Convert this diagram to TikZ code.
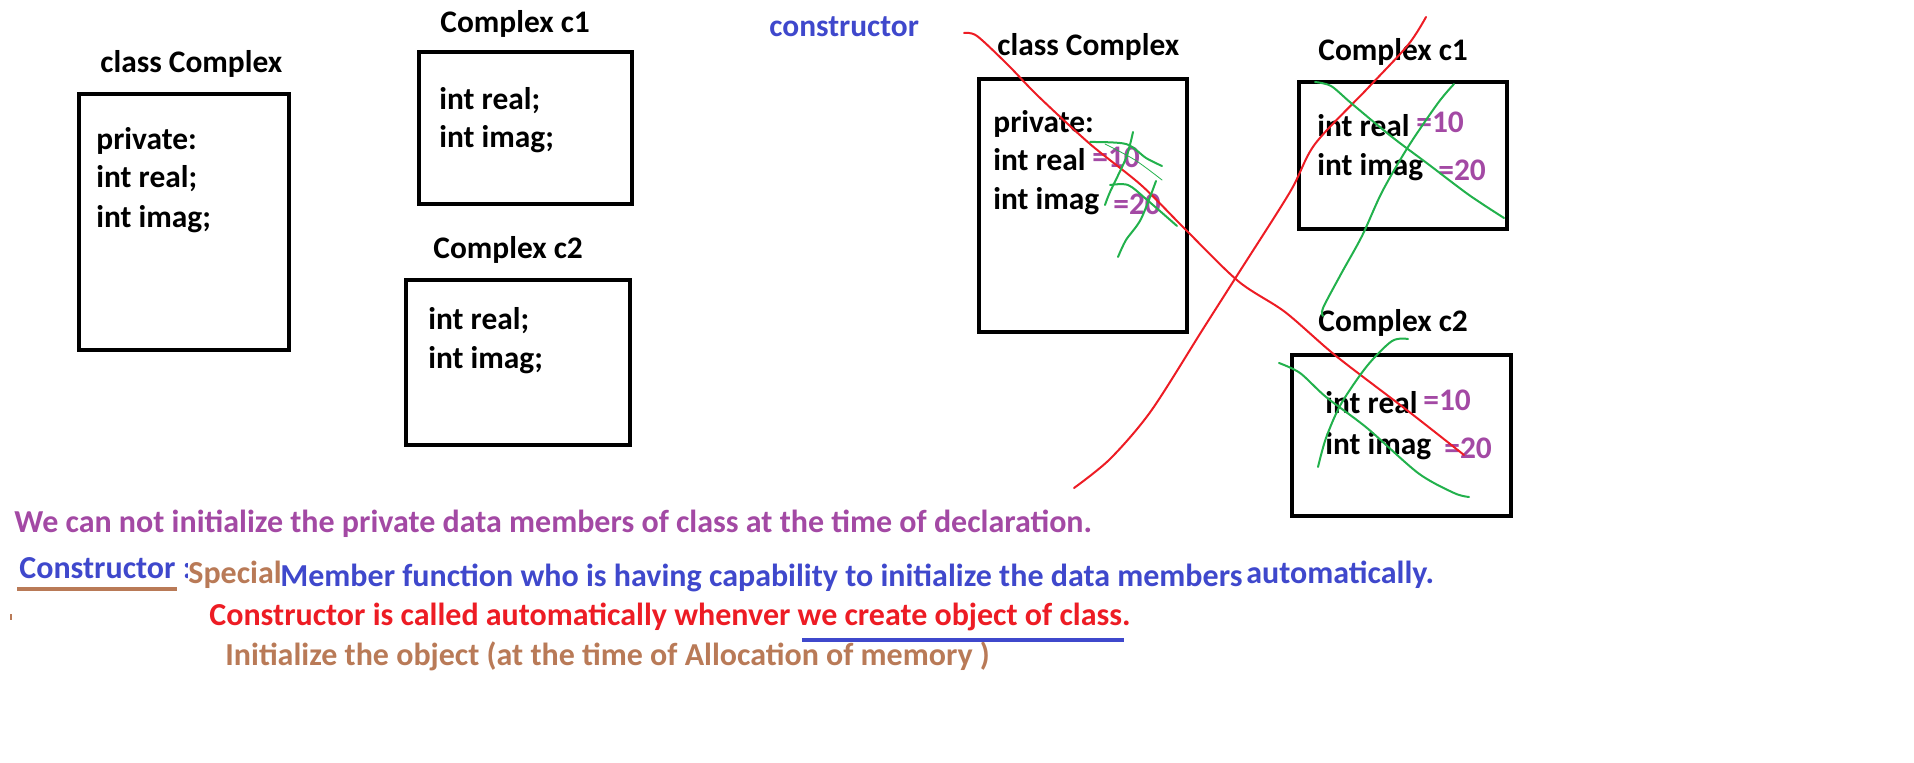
\documentclass[tikz,border=0pt]{standalone}
\usepackage{fontspec}
\setmainfont{Carlito}
\definecolor{paintpurple}{HTML}{A349A4}
\definecolor{paintblue}{HTML}{3F48CC}
\definecolor{paintbrown}{HTML}{B97A57}
\definecolor{paintred}{HTML}{ED1C24}
\definecolor{paintgreen}{HTML}{22B14C}
\begin{document}
\begin{tikzpicture}
  [x=0.5pt,y=-0.5pt,
   every node/.style={inner sep=0pt, anchor=base west, font=\bfseries\fontsize{15.7}{18}\selectfont},
   box/.style={draw, line width=2.2pt, anchor=north west},
   note/.style={font=\bfseries\fontsize{16}{19}\selectfont},
   redpen/.style={paintred, line width=1pt, line cap=round},
   greenpen/.style={paintgreen, line width=1pt, line cap=round}]
  \useasboundingbox (0,0) rectangle (1914,763);

  % first drawing: class and two objects
  \node (t1) at (100,73) {class Complex};
  \node[box, minimum width=105pt, minimum height=128pt] (cls1) at (77,92) {};
  \node (p1) at (96,150) {private:};
  \node (r1) at (96,188) {int real;};
  \node (i1) at (96,228) {int imag;};

  \node (t2) at (440,33) {Complex c1};
  \node[box, minimum width=106.5pt, minimum height=76pt] (obj1) at (417,50) {};
  \node (r2) at (439,110) {int real;};
  \node (i2) at (439,148) {int imag;};

  \node (t3) at (433,259) {Complex c2};
  \node[box, minimum width=112pt, minimum height=82.5pt] (obj2) at (404,278) {};
  \node (r3) at (428,330) {int real;};
  \node (i3) at (428,369) {int imag;};

  % second drawing: initialised members, struck out
  \node[paintblue] (ctor) at (769,37) {constructor};

  \node (t4) at (997,56) {class Complex};
  \node[box, minimum width=104pt, minimum height=126.5pt] (cls2) at (977,77) {};
  \node (p4) at (993,133) {private:};
  \node (r4) at (993,171) {int real};
  \node (i4) at (993,210) {int imag};
  \node[paintpurple] (v4a) at (1092,168) {=10};
  \node[paintpurple] (v4b) at (1113,215) {=20};

  \node (t5) at (1318,61) {Complex c1};
  \node[box, minimum width=104pt, minimum height=73.5pt] (obj3) at (1297,80) {};
  \node (r5) at (1317,137) {int real};
  \node (i5) at (1317,176) {int imag};
  \node[paintpurple] (v5a) at (1416,133) {=10};
  \node[paintpurple] (v5b) at (1438,181) {=20};

  \node (t6) at (1318,332) {Complex c2};
  \node[box, minimum width=109.5pt, minimum height=80.5pt] (obj4) at (1290,353) {};
  \node (r6) at (1325,414) {int real};
  \node (i6) at (1325,455) {int imag};
  \node[paintpurple] (v6a) at (1423,411) {=10};
  \node[paintpurple] (v6b) at (1444,459) {=20};

  % red cross
  \draw[redpen] plot[smooth] coordinates {(964,33) (977,36) (1008,65) (1038,96) (1090,144) (1141,185) (1182,226) (1238,281) (1285,312) (1336,356) (1408,411) (1464,455)};
  \draw[redpen] plot[smooth] coordinates {(1426,17) (1408,45) (1367,89) (1315,144) (1290,192) (1238,274) (1203,329) (1151,411) (1110,459) (1074,488)};

  % green scribbles
  \draw[greenpen] plot[smooth] coordinates {(1090,142) (1126,144) (1146,158) (1162,166)};
  \draw[greenpen] plot[smooth] coordinates {(1133,132) (1126,158) (1110,192) (1105,205)};
  \draw[greenpen] plot[smooth] coordinates {(1110,185) (1128,185) (1146,199) (1177,226)};
  \draw[greenpen, line width=0.4pt] plot[smooth] coordinates {(1105,144) (1135,160) (1162,180)};
  \draw[greenpen] plot[smooth] coordinates {(1156,181) (1141,219) (1126,240) (1118,257)};
  \draw[greenpen] plot[smooth] coordinates {(1315,82) (1331,86) (1351,103) (1392,137) (1428,164) (1469,195) (1504,218)};
  \draw[greenpen] plot[smooth] coordinates {(1454,84) (1438,103) (1408,147) (1382,192) (1362,236) (1341,274) (1323,308) (1323,316)};
  \draw[greenpen] plot[smooth] coordinates {(1279,363) (1300,373) (1326,397) (1367,428) (1418,473) (1454,493) (1469,497)};
  \draw[greenpen] plot[smooth] coordinates {(1408,339) (1392,341) (1367,366) (1341,404) (1326,438) (1318,467)};

  % notes below
  \node[note, paintpurple] (l1) at (14,533) {We can not initialize the private data members of class at the time of declaration.};
  \node[note, paintblue] (l2) at (19,579) {Constructor :};
  \node[note, paintbrown, fill=white] (l3) at (188,583) {Special};
  \node[note, paintblue] (l4) at (280,587) {Member function who is having capability to initialize the data members};
  \node[note, paintblue] (l5) at (1246,583) {automatically.};
  \node[note, paintred] (l6) at (209,625) {Constructor is called automatically whenver we create object of class.};
  \node[note, paintbrown] (l7) at (225,665) {Initialize the object (at the time of Allocation of memory )};
  \coordinate (u1) at (17,589);
  \coordinate (u2) at (177,589);
  \coordinate (u3) at (802,640);
  \coordinate (u4) at (1124,640);
  \draw[paintbrown, line width=2pt] (u1) -- (u2);
  \draw[paintblue, line width=2pt] (u3) -- (u4);
  \draw[paintbrown, line width=1pt] (11,614) -- (11,620);
\end{tikzpicture}
\end{document}
